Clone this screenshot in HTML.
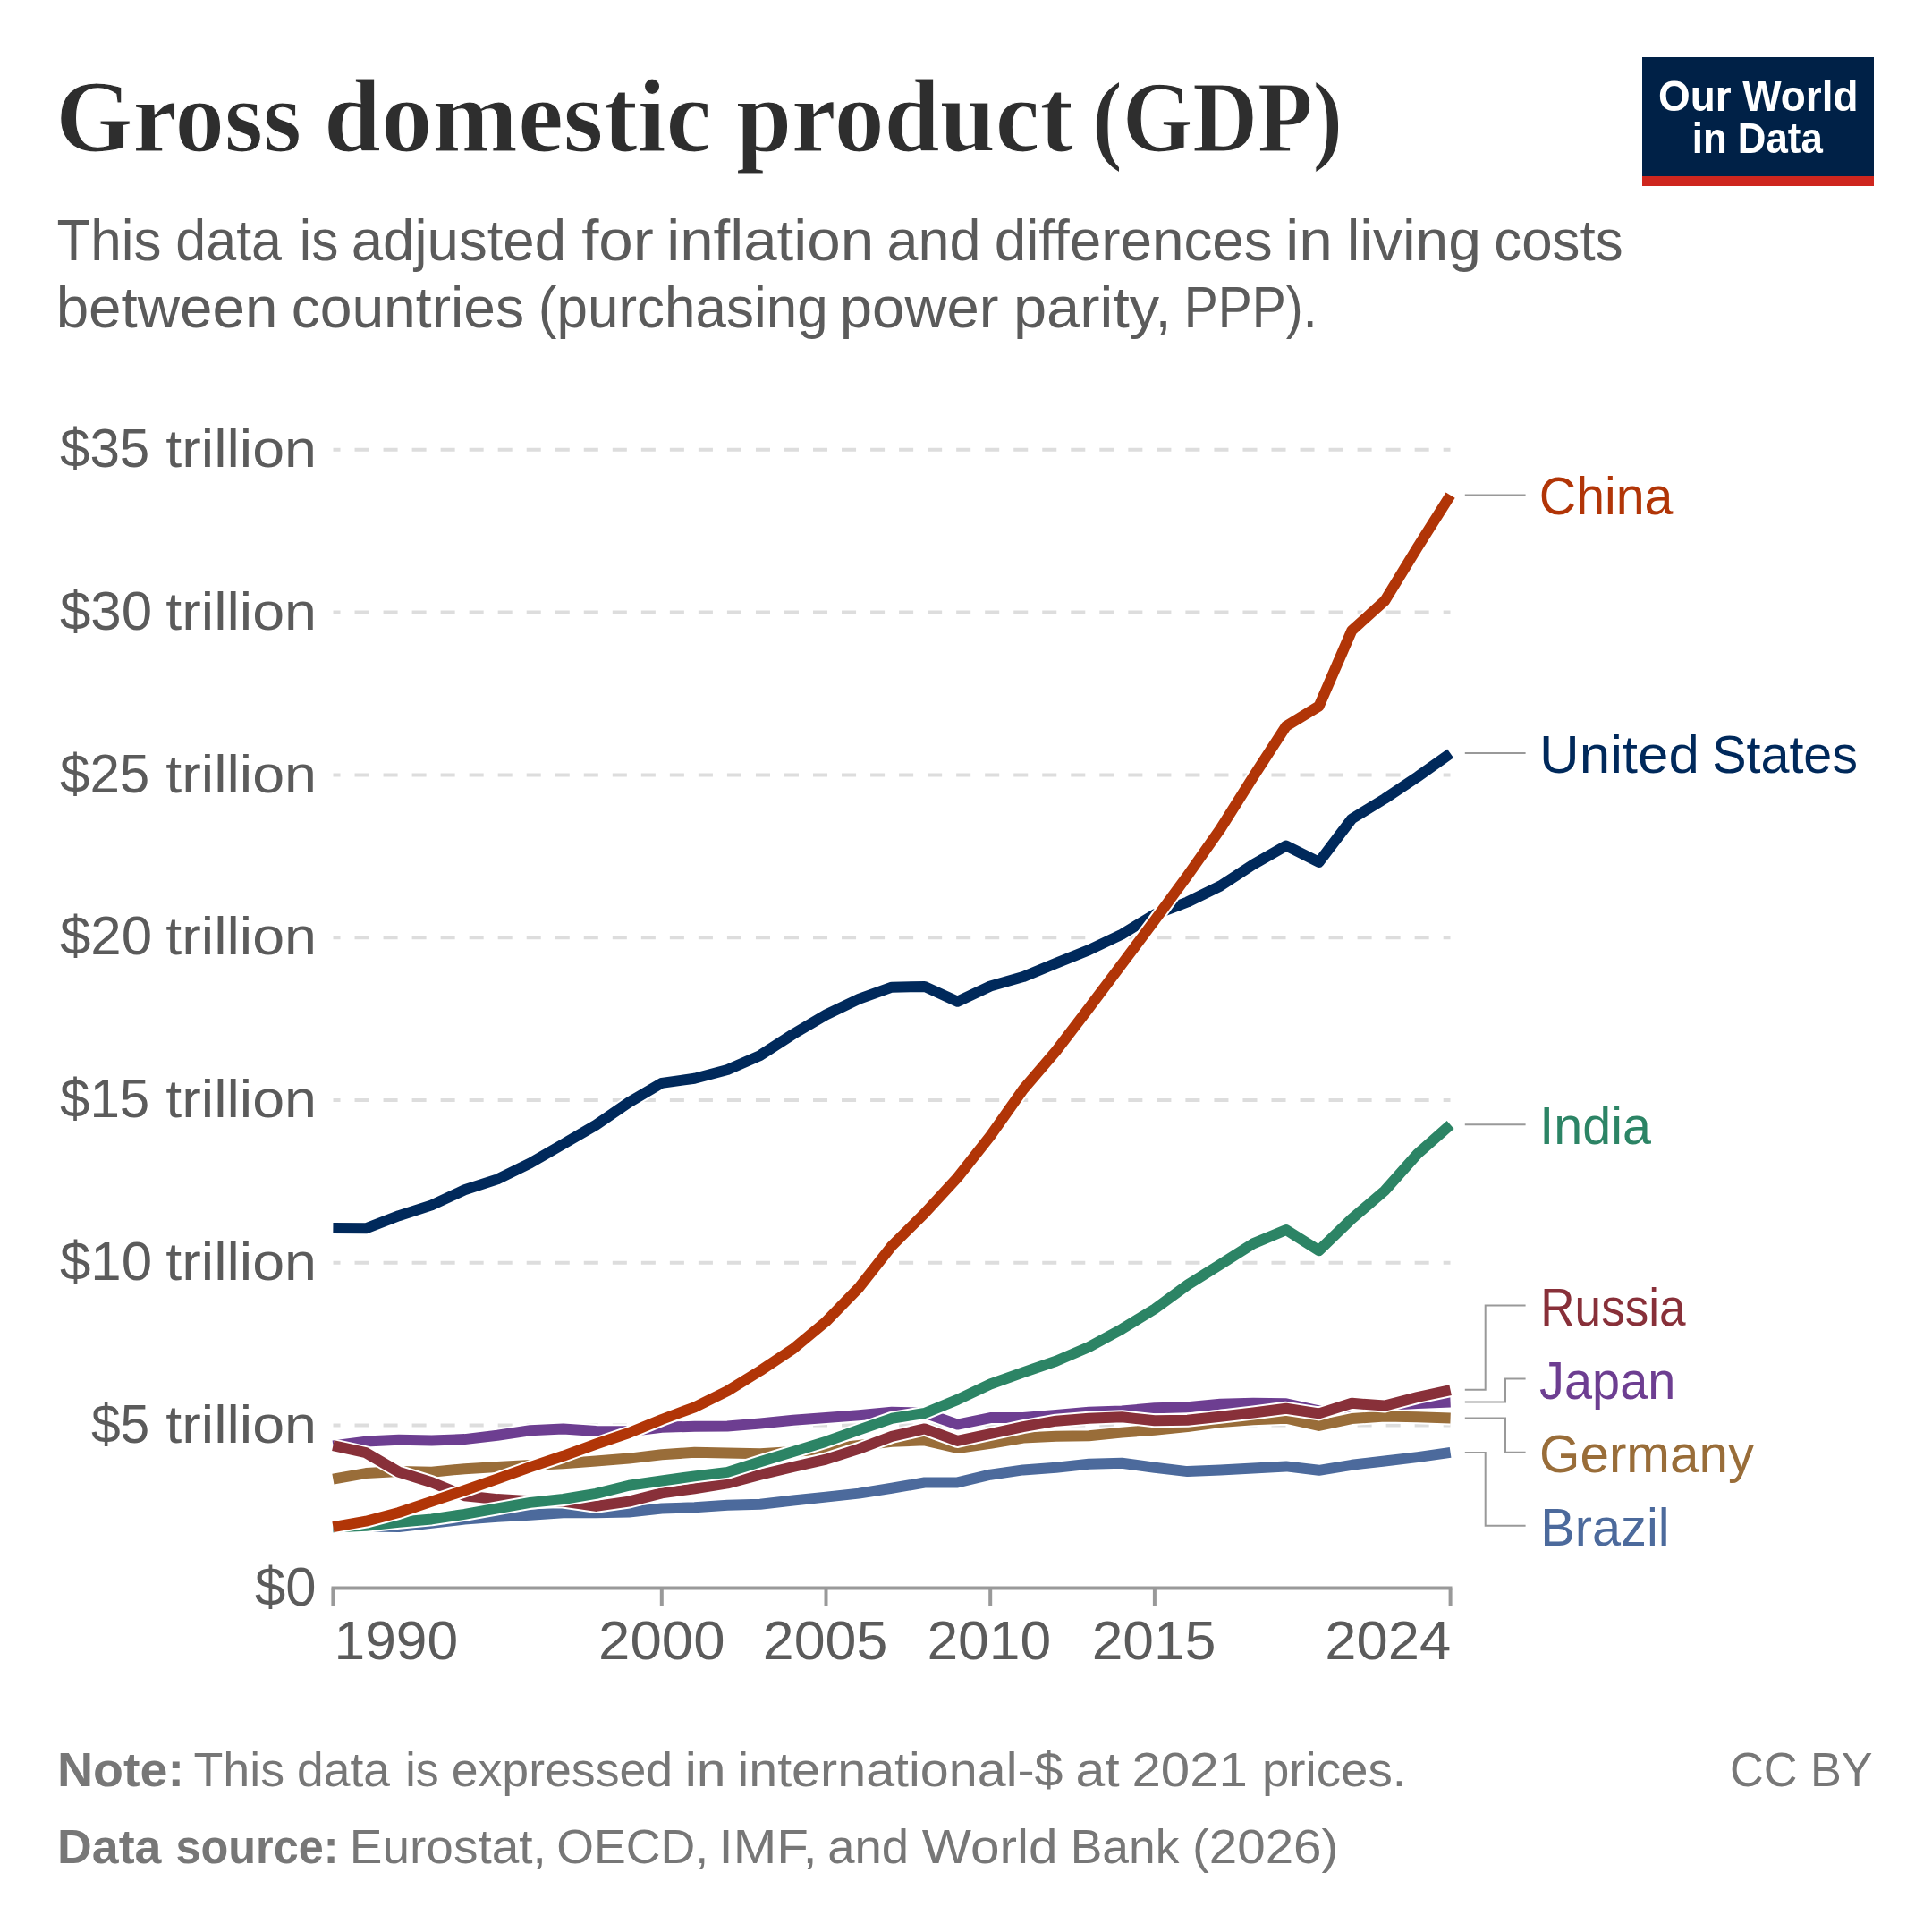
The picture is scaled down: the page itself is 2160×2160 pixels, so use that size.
<!DOCTYPE html>
<html lang="en"><head><meta charset="utf-8"><title>Gross domestic product (GDP)</title>
<style>html,body{margin:0;padding:0;background:#fff}body{width:2160px;height:2160px;overflow:hidden;font-family:"Liberation Sans",sans-serif}svg{display:block}text{white-space:pre}</style></head><body>
<svg width="2160" height="2160" viewBox="0 0 2160 2160">
<defs><filter id="nolcd" x="0" y="0" width="100%" height="100%" filterUnits="userSpaceOnUse" color-interpolation-filters="sRGB"><feOffset dx="0" dy="0"/></filter></defs>
<rect width="2160" height="2160" fill="#ffffff"/>
<g><rect x="1836" y="64" width="259" height="144" fill="#002147"/><rect x="1836" y="197" width="259" height="11" fill="#ce261e"/></g>
<g stroke="#dddddd" stroke-width="4" stroke-dasharray="16.03 16" stroke-dashoffset="8" fill="none">
<path d="M372.5 502.80H1621.5"/>
<path d="M372.5 684.60H1621.5"/>
<path d="M372.5 866.40H1621.5"/>
<path d="M372.5 1048.20H1621.5"/>
<path d="M372.5 1230.00H1621.5"/>
<path d="M372.5 1411.80H1621.5"/>
<path d="M372.5 1593.60H1621.5"/>
</g>
<g stroke="#999999" stroke-width="4" fill="none">
<path d="M370.5 1775.5H1623.5"/>
<path d="M372.4 1775.5V1795.3"/>
<path d="M739.8 1775.5V1795.3"/>
<path d="M923.5 1775.5V1795.3"/>
<path d="M1107.2 1775.5V1795.3"/>
<path d="M1290.9 1775.5V1795.3"/>
<path d="M1621.6 1775.5V1795.3"/>
</g>
<g fill="none" stroke-linejoin="round" stroke-linecap="butt">
<path d="M372.4 1706.5L409.1 1706.5L445.9 1707.0L482.6 1702.9L519.4 1698.6L556.1 1695.7L592.8 1693.8L629.6 1691.3L666.3 1691.2L703.1 1690.6L739.8 1686.5L776.5 1685.2L813.3 1682.8L850.0 1681.7L886.8 1677.5L923.5 1673.6L960.2 1669.6L997.0 1663.8L1033.7 1657.5L1070.5 1657.4L1107.2 1648.7L1143.9 1643.4L1180.7 1640.7L1217.4 1636.8L1254.2 1635.7L1290.9 1640.7L1327.6 1645.1L1364.4 1643.6L1401.1 1641.5L1437.9 1639.4L1474.6 1643.8L1511.3 1637.8L1548.1 1633.5L1584.8 1629.1L1621.6 1623.9" stroke="#ffffff" stroke-width="16.0"/>
<path d="M372.4 1706.5L409.1 1706.5L445.9 1707.0L482.6 1702.9L519.4 1698.6L556.1 1695.7L592.8 1693.8L629.6 1691.3L666.3 1691.2L703.1 1690.6L739.8 1686.5L776.5 1685.2L813.3 1682.8L850.0 1681.7L886.8 1677.5L923.5 1673.6L960.2 1669.6L997.0 1663.8L1033.7 1657.5L1070.5 1657.4L1107.2 1648.7L1143.9 1643.4L1180.7 1640.7L1217.4 1636.8L1254.2 1635.7L1290.9 1640.7L1327.6 1645.1L1364.4 1643.6L1401.1 1641.5L1437.9 1639.4L1474.6 1643.8L1511.3 1637.8L1548.1 1633.5L1584.8 1629.1L1621.6 1623.9" stroke="#4C6A9C" stroke-width="12.0"/>
<path d="M372.4 1616.5L409.1 1611.6L445.9 1609.8L482.6 1610.5L519.4 1609.1L556.1 1604.8L592.8 1599.3L629.6 1597.4L666.3 1599.9L703.1 1600.3L739.8 1595.7L776.5 1594.8L813.3 1594.6L850.0 1591.4L886.8 1587.8L923.5 1585.1L960.2 1582.3L997.0 1578.8L1033.7 1579.7L1070.5 1592.6L1107.2 1585.1L1143.9 1585.1L1180.7 1582.0L1217.4 1578.7L1254.2 1577.4L1290.9 1574.3L1327.6 1573.3L1364.4 1569.7L1401.1 1568.7L1437.9 1569.3L1474.6 1577.4L1511.3 1573.5L1548.1 1571.0L1584.8 1569.1L1621.6 1567.5" stroke="#ffffff" stroke-width="16.0"/>
<path d="M372.4 1616.5L409.1 1611.6L445.9 1609.8L482.6 1610.5L519.4 1609.1L556.1 1604.8L592.8 1599.3L629.6 1597.4L666.3 1599.9L703.1 1600.3L739.8 1595.7L776.5 1594.8L813.3 1594.6L850.0 1591.4L886.8 1587.8L923.5 1585.1L960.2 1582.3L997.0 1578.8L1033.7 1579.7L1070.5 1592.6L1107.2 1585.1L1143.9 1585.1L1180.7 1582.0L1217.4 1578.7L1254.2 1577.4L1290.9 1574.3L1327.6 1573.3L1364.4 1569.7L1401.1 1568.7L1437.9 1569.3L1474.6 1577.4L1511.3 1573.5L1548.1 1571.0L1584.8 1569.1L1621.6 1567.5" stroke="#6D3E91" stroke-width="12.0"/>
<path d="M372.4 1653.6L409.1 1647.1L445.9 1644.9L482.6 1645.7L519.4 1642.2L556.1 1640.1L592.8 1638.0L629.6 1636.2L666.3 1633.5L703.1 1630.6L739.8 1626.2L776.5 1623.8L813.3 1624.6L850.0 1625.2L886.8 1623.0L923.5 1620.0L960.2 1616.0L997.0 1611.7L1033.7 1610.3L1070.5 1619.0L1107.2 1613.9L1143.9 1607.5L1180.7 1605.8L1217.4 1605.2L1254.2 1601.6L1290.9 1598.7L1327.6 1595.1L1364.4 1590.0L1401.1 1587.3L1437.9 1585.7L1474.6 1593.9L1511.3 1586.1L1548.1 1583.5L1584.8 1584.2L1621.6 1585.5" stroke="#ffffff" stroke-width="16.0"/>
<path d="M372.4 1653.6L409.1 1647.1L445.9 1644.9L482.6 1645.7L519.4 1642.2L556.1 1640.1L592.8 1638.0L629.6 1636.2L666.3 1633.5L703.1 1630.6L739.8 1626.2L776.5 1623.8L813.3 1624.6L850.0 1625.2L886.8 1623.0L923.5 1620.0L960.2 1616.0L997.0 1611.7L1033.7 1610.3L1070.5 1619.0L1107.2 1613.9L1143.9 1607.5L1180.7 1605.8L1217.4 1605.2L1254.2 1601.6L1290.9 1598.7L1327.6 1595.1L1364.4 1590.0L1401.1 1587.3L1437.9 1585.7L1474.6 1593.9L1511.3 1586.1L1548.1 1583.5L1584.8 1584.2L1621.6 1585.5" stroke="#996D39" stroke-width="12.0"/>
<path d="M372.4 1616.2L409.1 1624.2L445.9 1645.7L482.6 1657.2L519.4 1672.3L556.1 1676.1L592.8 1678.3L629.6 1678.5L666.3 1683.9L703.1 1678.6L739.8 1669.4L776.5 1664.3L813.3 1658.4L850.0 1648.8L886.8 1640.0L923.5 1631.6L960.2 1619.9L997.0 1605.9L1033.7 1597.4L1070.5 1610.9L1107.2 1603.0L1143.9 1595.2L1180.7 1588.7L1217.4 1585.7L1254.2 1584.2L1290.9 1588.3L1327.6 1587.8L1364.4 1583.8L1401.1 1579.5L1437.9 1574.8L1474.6 1580.4L1511.3 1568.8L1548.1 1571.6L1584.8 1562.0L1621.6 1554.1" stroke="#ffffff" stroke-width="16.0"/>
<path d="M372.4 1616.2L409.1 1624.2L445.9 1645.7L482.6 1657.2L519.4 1672.3L556.1 1676.1L592.8 1678.3L629.6 1678.5L666.3 1683.9L703.1 1678.6L739.8 1669.4L776.5 1664.3L813.3 1658.4L850.0 1648.8L886.8 1640.0L923.5 1631.6L960.2 1619.9L997.0 1605.9L1033.7 1597.4L1070.5 1610.9L1107.2 1603.0L1143.9 1595.2L1180.7 1588.7L1217.4 1585.7L1254.2 1584.2L1290.9 1588.3L1327.6 1587.8L1364.4 1583.8L1401.1 1579.5L1437.9 1574.8L1474.6 1580.4L1511.3 1568.8L1548.1 1571.6L1584.8 1562.0L1621.6 1554.1" stroke="#883039" stroke-width="12.0"/>
<path d="M372.4 1707.5L409.1 1705.8L445.9 1701.7L482.6 1698.4L519.4 1692.9L556.1 1686.4L592.8 1679.9L629.6 1676.0L666.3 1669.9L703.1 1660.7L739.8 1655.5L776.5 1650.4L813.3 1645.9L850.0 1634.2L886.8 1623.0L923.5 1611.7L960.2 1598.7L997.0 1585.8L1033.7 1580.0L1070.5 1564.9L1107.2 1547.5L1143.9 1534.3L1180.7 1521.7L1217.4 1505.9L1254.2 1485.9L1290.9 1463.5L1327.6 1436.6L1364.4 1413.6L1401.1 1390.4L1437.9 1375.0L1474.6 1398.1L1511.3 1362.6L1548.1 1331.2L1584.8 1290.0L1621.6 1257.6" stroke="#ffffff" stroke-width="16.0"/>
<path d="M372.4 1707.5L409.1 1705.8L445.9 1701.7L482.6 1698.4L519.4 1692.9L556.1 1686.4L592.8 1679.9L629.6 1676.0L666.3 1669.9L703.1 1660.7L739.8 1655.5L776.5 1650.4L813.3 1645.9L850.0 1634.2L886.8 1623.0L923.5 1611.7L960.2 1598.7L997.0 1585.8L1033.7 1580.0L1070.5 1564.9L1107.2 1547.5L1143.9 1534.3L1180.7 1521.7L1217.4 1505.9L1254.2 1485.9L1290.9 1463.5L1327.6 1436.6L1364.4 1413.6L1401.1 1390.4L1437.9 1375.0L1474.6 1398.1L1511.3 1362.6L1548.1 1331.2L1584.8 1290.0L1621.6 1257.6" stroke="#2C8465" stroke-width="12.0"/>
<path d="M372.4 1373.0L409.1 1373.3L445.9 1359.2L482.6 1347.4L519.4 1330.2L556.1 1318.4L592.8 1300.4L629.6 1279.1L666.3 1257.8L703.1 1232.5L739.8 1210.9L776.5 1205.8L813.3 1196.0L850.0 1179.9L886.8 1156.1L923.5 1134.5L960.2 1116.9L997.0 1103.7L1033.7 1102.9L1070.5 1119.8L1107.2 1102.5L1143.9 1092.1L1180.7 1076.9L1217.4 1062.1L1254.2 1044.6L1290.9 1022.4L1327.6 1008.5L1364.4 990.5L1401.1 966.5L1437.9 945.5L1474.6 963.9L1511.3 915.5L1548.1 893.0L1584.8 868.5L1621.6 842.3" stroke="#ffffff" stroke-width="16.0"/>
<path d="M372.4 1373.0L409.1 1373.3L445.9 1359.2L482.6 1347.4L519.4 1330.2L556.1 1318.4L592.8 1300.4L629.6 1279.1L666.3 1257.8L703.1 1232.5L739.8 1210.9L776.5 1205.8L813.3 1196.0L850.0 1179.9L886.8 1156.1L923.5 1134.5L960.2 1116.9L997.0 1103.7L1033.7 1102.9L1070.5 1119.8L1107.2 1102.5L1143.9 1092.1L1180.7 1076.9L1217.4 1062.1L1254.2 1044.6L1290.9 1022.4L1327.6 1008.5L1364.4 990.5L1401.1 966.5L1437.9 945.5L1474.6 963.9L1511.3 915.5L1548.1 893.0L1584.8 868.5L1621.6 842.3" stroke="#00295B" stroke-width="12.0"/>
<path d="M372.4 1707.1L409.1 1700.7L445.9 1691.0L482.6 1678.6L519.4 1666.3L556.1 1653.3L592.8 1640.2L629.6 1627.8L666.3 1614.5L703.1 1602.0L739.8 1587.0L776.5 1573.3L813.3 1555.2L850.0 1532.5L886.8 1508.0L923.5 1477.5L960.2 1439.7L997.0 1393.0L1033.7 1356.5L1070.5 1316.5L1107.2 1270.0L1143.9 1218.0L1180.7 1175.0L1217.4 1127.0L1254.2 1078.0L1290.9 1029.0L1327.6 979.0L1364.4 926.8L1401.1 868.5L1437.9 811.8L1474.6 789.5L1511.3 705.0L1548.1 671.8L1584.8 611.8L1621.6 553.6" stroke="#ffffff" stroke-width="16.0"/>
<path d="M372.4 1707.1L409.1 1700.7L445.9 1691.0L482.6 1678.6L519.4 1666.3L556.1 1653.3L592.8 1640.2L629.6 1627.8L666.3 1614.5L703.1 1602.0L739.8 1587.0L776.5 1573.3L813.3 1555.2L850.0 1532.5L886.8 1508.0L923.5 1477.5L960.2 1439.7L997.0 1393.0L1033.7 1356.5L1070.5 1316.5L1107.2 1270.0L1143.9 1218.0L1180.7 1175.0L1217.4 1127.0L1254.2 1078.0L1290.9 1029.0L1327.6 979.0L1364.4 926.8L1401.1 868.5L1437.9 811.8L1474.6 789.5L1511.3 705.0L1548.1 671.8L1584.8 611.8L1621.6 553.6" stroke="#B13507" stroke-width="12.0"/>
</g>
<g fill="none" stroke="#999999" stroke-width="2">
<path d="M1637.8 553.5H1705.6"/>
<path d="M1637.8 842H1705.6"/>
<path d="M1637.8 1257.3H1705.6"/>
<path d="M1637.8 1553.7H1660.7V1459.5H1705.6"/>
<path d="M1637.8 1567.4H1683V1541.6H1705.6"/>
<path d="M1637.8 1585.6H1683V1623.8H1705.6"/>
<path d="M1637.8 1623.9H1660.7V1705.7H1705.6"/>
</g>
<text id="t1" transform="translate(62.24 169.30) scale(0.9716 1)" font-family="'Liberation Serif', serif" font-weight="700" font-size="114" fill="#2e2e2e" stroke="#ffffff" stroke-width="1.2" paint-order="fill stroke">Gross</text>
<text id="t2" transform="translate(362.09 169.30) scale(0.9895 1)" font-family="'Liberation Serif', serif" font-weight="700" font-size="116" fill="#2e2e2e" stroke="#ffffff" stroke-width="1.2" paint-order="fill stroke">domestic</text>
<text id="t3" transform="translate(822.94 169.30) scale(0.9636 1)" font-family="'Liberation Serif', serif" font-weight="700" font-size="116" fill="#2e2e2e" stroke="#ffffff" stroke-width="1.2" paint-order="fill stroke">product</text>
<text id="t4" transform="translate(1221.35 169.30) scale(0.8913 1)" font-family="'Liberation Serif', serif" font-weight="700" font-size="113" fill="#2e2e2e" stroke="#ffffff" stroke-width="1.2" paint-order="fill stroke">(GDP)</text>
<text id="s1_0" transform="translate(63.50 290.50) scale(0.9688 1)" font-family="'Liberation Sans', sans-serif" font-weight="400" font-size="64" fill="#5b5b5b">This</text>
<text id="s1_1" transform="translate(196.30 290.50) scale(0.9531 1)" font-family="'Liberation Sans', sans-serif" font-weight="400" font-size="64" fill="#5b5b5b">data</text>
<text id="s1_2" transform="translate(334.75 290.50) scale(0.9427 1)" font-family="'Liberation Sans', sans-serif" font-weight="400" font-size="64" fill="#5b5b5b">is</text>
<text id="s1_3" transform="translate(392.75 290.50) scale(0.9932 1)" font-family="'Liberation Sans', sans-serif" font-weight="400" font-size="64" fill="#5b5b5b">adjusted</text>
<text id="s1_4" transform="translate(650.14 290.50) scale(1.0804 1)" font-family="'Liberation Sans', sans-serif" font-weight="400" font-size="64" fill="#5b5b5b">for</text>
<text id="s1_5" transform="translate(745.18 290.50) scale(1.0517 1)" font-family="'Liberation Sans', sans-serif" font-weight="400" font-size="64" fill="#5b5b5b">inflation</text>
<text id="s1_6" transform="translate(991.48 290.50) scale(0.9823 1)" font-family="'Liberation Sans', sans-serif" font-weight="400" font-size="64" fill="#5b5b5b">and</text>
<text id="s1_7" transform="translate(1111.67 290.50) scale(0.9977 1)" font-family="'Liberation Sans', sans-serif" font-weight="400" font-size="64" fill="#5b5b5b">differences</text>
<text id="s1_8" transform="translate(1437.26 290.50) scale(1.0551 1)" font-family="'Liberation Sans', sans-serif" font-weight="400" font-size="64" fill="#5b5b5b">in</text>
<text id="s1_9" transform="translate(1505.64 290.50) scale(1.0306 1)" font-family="'Liberation Sans', sans-serif" font-weight="400" font-size="64" fill="#5b5b5b">living</text>
<text id="s1_10" transform="translate(1670.35 290.50) scale(0.9655 1)" font-family="'Liberation Sans', sans-serif" font-weight="400" font-size="64" fill="#5b5b5b">costs</text>
<text id="s2_0" transform="translate(62.67 365.80) scale(1.0243 1)" font-family="'Liberation Sans', sans-serif" font-weight="400" font-size="64" fill="#5b5b5b">between</text>
<text id="s2_1" transform="translate(325.64 365.80) scale(1.0031 1)" font-family="'Liberation Sans', sans-serif" font-weight="400" font-size="64" fill="#5b5b5b">countries</text>
<text id="s2_2" transform="translate(601.83 365.80) scale(0.9683 1)" font-family="'Liberation Sans', sans-serif" font-weight="400" font-size="64" fill="#5b5b5b">(purchasing</text>
<text id="s2_3" transform="translate(938.79 365.80) scale(1.0199 1)" font-family="'Liberation Sans', sans-serif" font-weight="400" font-size="64" fill="#5b5b5b">power</text>
<text id="s2_4" transform="translate(1132.89 365.80) scale(1.0441 1)" font-family="'Liberation Sans', sans-serif" font-weight="400" font-size="64" fill="#5b5b5b">parity,</text>
<text id="s2_5" transform="translate(1323.71 365.80) scale(0.8908 1)" font-family="'Liberation Sans', sans-serif" font-weight="400" font-size="64" fill="#5b5b5b">PPP).</text>
<text id="y35a" transform="translate(66.92 521.90) scale(0.9866 1)" font-family="'Liberation Sans', sans-serif" font-weight="400" font-size="61" fill="#5b5b5b">$35</text>
<text id="y35b" transform="translate(185.33 521.90) scale(1.0767 1)" font-family="'Liberation Sans', sans-serif" font-weight="400" font-size="60" fill="#5b5b5b">trillion</text>
<text id="y30a" transform="translate(66.90 703.70) scale(1.0137 1)" font-family="'Liberation Sans', sans-serif" font-weight="400" font-size="61" fill="#5b5b5b">$30</text>
<text id="y30b" transform="translate(185.33 703.70) scale(1.0767 1)" font-family="'Liberation Sans', sans-serif" font-weight="400" font-size="60" fill="#5b5b5b">trillion</text>
<text id="y25a" transform="translate(66.92 885.50) scale(0.9866 1)" font-family="'Liberation Sans', sans-serif" font-weight="400" font-size="61" fill="#5b5b5b">$25</text>
<text id="y25b" transform="translate(185.33 885.50) scale(1.0767 1)" font-family="'Liberation Sans', sans-serif" font-weight="400" font-size="60" fill="#5b5b5b">trillion</text>
<text id="y20a" transform="translate(66.90 1067.30) scale(1.0137 1)" font-family="'Liberation Sans', sans-serif" font-weight="400" font-size="61" fill="#5b5b5b">$20</text>
<text id="y20b" transform="translate(185.33 1067.30) scale(1.0767 1)" font-family="'Liberation Sans', sans-serif" font-weight="400" font-size="60" fill="#5b5b5b">trillion</text>
<text id="y15a" transform="translate(66.92 1249.10) scale(0.9866 1)" font-family="'Liberation Sans', sans-serif" font-weight="400" font-size="61" fill="#5b5b5b">$15</text>
<text id="y15b" transform="translate(185.33 1249.10) scale(1.0767 1)" font-family="'Liberation Sans', sans-serif" font-weight="400" font-size="60" fill="#5b5b5b">trillion</text>
<text id="y10a" transform="translate(66.90 1430.90) scale(1.0137 1)" font-family="'Liberation Sans', sans-serif" font-weight="400" font-size="61" fill="#5b5b5b">$10</text>
<text id="y10b" transform="translate(185.33 1430.90) scale(1.0767 1)" font-family="'Liberation Sans', sans-serif" font-weight="400" font-size="60" fill="#5b5b5b">trillion</text>
<text id="y5a" transform="translate(101.95 1612.70) scale(0.9632 1)" font-family="'Liberation Sans', sans-serif" font-weight="400" font-size="61" fill="#5b5b5b">$5</text>
<text id="y5b" transform="translate(185.33 1612.70) scale(1.0767 1)" font-family="'Liberation Sans', sans-serif" font-weight="400" font-size="60" fill="#5b5b5b">trillion</text>
<text id="y0" transform="translate(285.00 1794.50) scale(1.0101 1)" font-family="'Liberation Sans', sans-serif" font-weight="400" font-size="61" fill="#5b5b5b">$0</text>
<text id="x1990" transform="translate(373.47 1855.00) scale(1.0148 1)" font-family="'Liberation Sans', sans-serif" font-weight="400" font-size="61.5" fill="#5b5b5b">1990</text>
<text id="x2000" transform="translate(669.12 1855.00) scale(1.0338 1)" font-family="'Liberation Sans', sans-serif" font-weight="400" font-size="61.5" fill="#5b5b5b">2000</text>
<text id="x2005" transform="translate(852.78 1855.00) scale(1.0196 1)" font-family="'Liberation Sans', sans-serif" font-weight="400" font-size="61.5" fill="#5b5b5b">2005</text>
<text id="x2010" transform="translate(1036.40 1855.00) scale(1.0146 1)" font-family="'Liberation Sans', sans-serif" font-weight="400" font-size="61.5" fill="#5b5b5b">2010</text>
<text id="x2015" transform="translate(1220.70 1855.00) scale(1.0134 1)" font-family="'Liberation Sans', sans-serif" font-weight="400" font-size="61.5" fill="#5b5b5b">2015</text>
<text id="x2024" transform="translate(1481.34 1855.00) scale(1.0294 1)" font-family="'Liberation Sans', sans-serif" font-weight="400" font-size="61.5" fill="#5b5b5b">2024</text>
<text id="lChina" transform="translate(1720.86 575.40) scale(0.9541 1)" font-family="'Liberation Sans', sans-serif" font-weight="400" font-size="60" fill="#B13507">China</text>
<text id="lUS1" transform="translate(1721.03 863.80) scale(1.0315 1)" font-family="'Liberation Sans', sans-serif" font-weight="400" font-size="60" fill="#00295B">United</text>
<text id="lUS2" transform="translate(1914.14 863.80) scale(0.9579 1)" font-family="'Liberation Sans', sans-serif" font-weight="400" font-size="60" fill="#00295B">States</text>
<text id="lIndia" transform="translate(1721.30 1279.40) scale(0.9575 1)" font-family="'Liberation Sans', sans-serif" font-weight="400" font-size="60" fill="#2C8465">India</text>
<text id="lRussia" transform="translate(1722.24 1481.70) scale(0.8852 1)" font-family="'Liberation Sans', sans-serif" font-weight="400" font-size="60" fill="#883039">Russia</text>
<text id="lJapan" transform="translate(1721.12 1563.70) scale(0.9311 1)" font-family="'Liberation Sans', sans-serif" font-weight="400" font-size="60" fill="#6D3E91">Japan</text>
<text id="lGermany" transform="translate(1721.01 1645.50) scale(0.9734 1)" font-family="'Liberation Sans', sans-serif" font-weight="400" font-size="60" fill="#996D39">Germany</text>
<text id="lBrazil" transform="translate(1722.27 1727.50) scale(0.9622 1)" font-family="'Liberation Sans', sans-serif" font-weight="400" font-size="60" fill="#4C6A9C">Brazil</text>
<text id="f1" transform="translate(63.97 1997.30) scale(1.0291 1)" font-family="'Liberation Sans', sans-serif" font-weight="700" font-size="54" fill="#777777">Note:</text>
<text id="f2_0" transform="translate(216.46 1997.30) scale(0.9964 1)" font-family="'Liberation Sans', sans-serif" font-weight="400" font-size="54" fill="#777777">This</text>
<text id="f2_1" transform="translate(332.09 1997.30) scale(0.9896 1)" font-family="'Liberation Sans', sans-serif" font-weight="400" font-size="54" fill="#777777">data</text>
<text id="f2_2" transform="translate(453.33 1997.30) scale(0.9587 1)" font-family="'Liberation Sans', sans-serif" font-weight="400" font-size="54" fill="#777777">is</text>
<text id="f2_3" transform="translate(504.74 1997.30) scale(0.9930 1)" font-family="'Liberation Sans', sans-serif" font-weight="400" font-size="54" fill="#777777">expressed</text>
<text id="f2_4" transform="translate(765.66 1997.30) scale(1.0894 1)" font-family="'Liberation Sans', sans-serif" font-weight="400" font-size="54" fill="#777777">in</text>
<text id="f2_5" transform="translate(824.45 1997.30) scale(1.0639 1)" font-family="'Liberation Sans', sans-serif" font-weight="400" font-size="54" fill="#777777">international-$</text>
<text id="f2_6" transform="translate(1202.50 1997.30) scale(1.0924 1)" font-family="'Liberation Sans', sans-serif" font-weight="400" font-size="54" fill="#777777">at</text>
<text id="f2_7" transform="translate(1265.42 1997.30) scale(1.0775 1)" font-family="'Liberation Sans', sans-serif" font-weight="400" font-size="54" fill="#777777">2021</text>
<text id="f2_8" transform="translate(1410.91 1997.30) scale(1.0130 1)" font-family="'Liberation Sans', sans-serif" font-weight="400" font-size="54" fill="#777777">prices.</text>
<text id="f3a" transform="translate(64.10 2082.60) scale(0.9935 1)" font-family="'Liberation Sans', sans-serif" font-weight="700" font-size="54" fill="#777777">Data</text>
<text id="f3b" transform="translate(196.53 2082.60) scale(0.9331 1)" font-family="'Liberation Sans', sans-serif" font-weight="700" font-size="54" fill="#777777">source:</text>
<text id="f4_0" transform="translate(390.77 2082.60) scale(1.0188 1)" font-family="'Liberation Sans', sans-serif" font-weight="400" font-size="54" fill="#777777">Eurostat,</text>
<text id="f4_1" transform="translate(622.30 2082.60) scale(0.9936 1)" font-family="'Liberation Sans', sans-serif" font-weight="400" font-size="54" fill="#777777">OECD,</text>
<text id="f4_2" transform="translate(803.60 2082.60) scale(1.0796 1)" font-family="'Liberation Sans', sans-serif" font-weight="400" font-size="54" fill="#777777">IMF,</text>
<text id="f4_3" transform="translate(925.13 2082.60) scale(1.0102 1)" font-family="'Liberation Sans', sans-serif" font-weight="400" font-size="54" fill="#777777">and</text>
<text id="f4_4" transform="translate(1030.78 2082.60) scale(1.0838 1)" font-family="'Liberation Sans', sans-serif" font-weight="400" font-size="54" fill="#777777">World</text>
<text id="f4_5" transform="translate(1196.80 2082.60) scale(0.9879 1)" font-family="'Liberation Sans', sans-serif" font-weight="400" font-size="54" fill="#777777">Bank</text>
<text id="f4_6" transform="translate(1332.98 2082.60) scale(1.0472 1)" font-family="'Liberation Sans', sans-serif" font-weight="400" font-size="54" fill="#777777">(2026)</text>
<text id="f5" transform="translate(1934.03 1997.30) scale(0.9670 1)" font-family="'Liberation Sans', sans-serif" font-weight="400" font-size="54" fill="#777777">CC BY</text>
<g filter="url(#nolcd)">
<text id="g1" transform="translate(1854.02 123.60) scale(0.9562 1)" font-family="'Liberation Sans', sans-serif" font-weight="700" font-size="48" fill="#ffffff">Our World</text>
<text id="g2" transform="translate(1891.77 171.20) scale(0.9123 1)" font-family="'Liberation Sans', sans-serif" font-weight="700" font-size="48" fill="#ffffff">in Data</text>
</g>
</svg></body></html>
